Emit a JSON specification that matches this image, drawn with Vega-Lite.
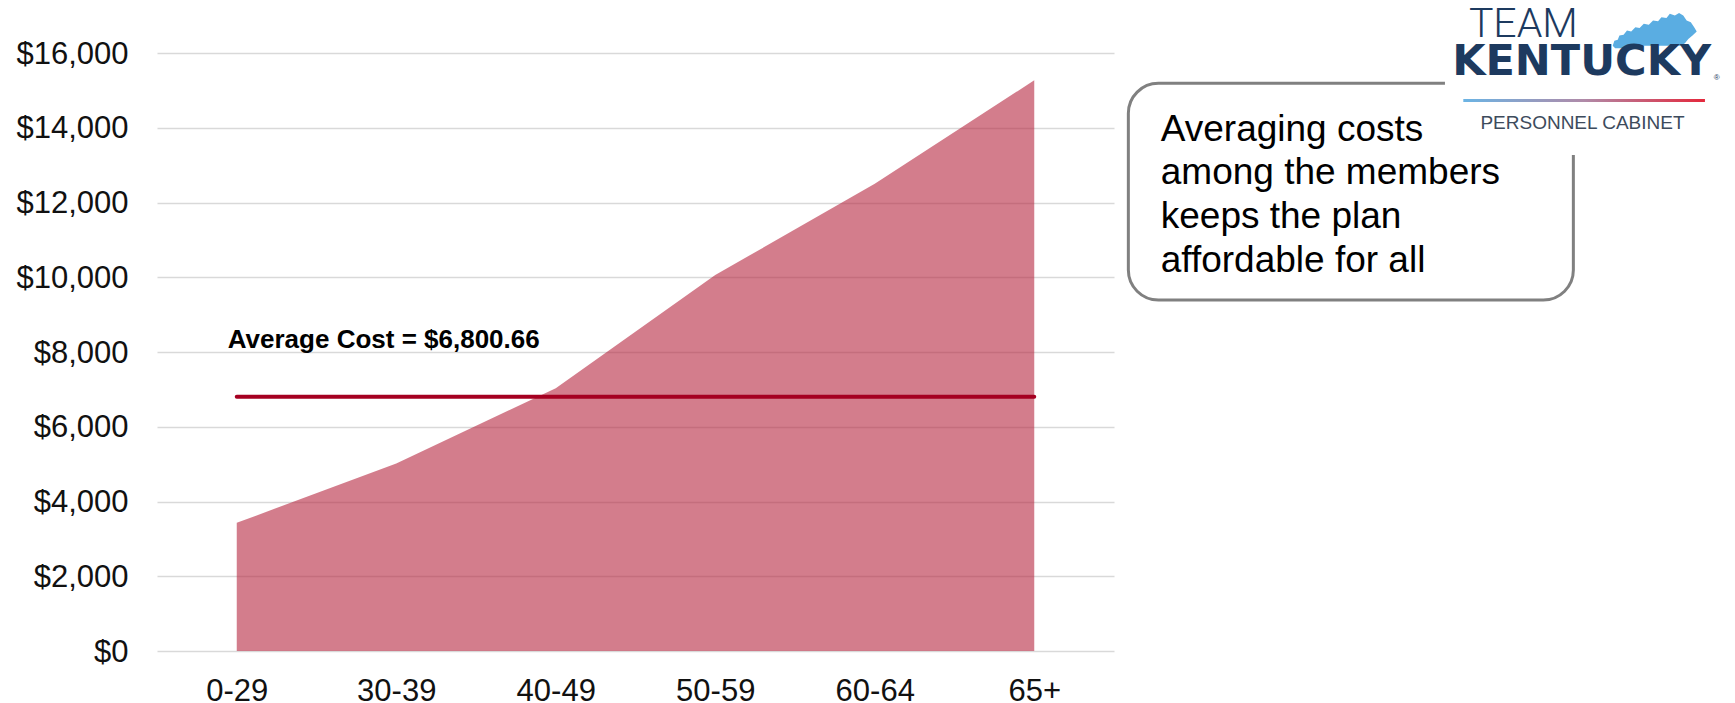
{
  "$schema": "https://vega.github.io/schema/vega-lite/v6.json",
  "width": 957,
  "height": 598,
  "autosize": {"type": "none"},
  "padding": {"left": 157, "top": 53, "right": 621, "bottom": 52},
  "background": "white",
  "config": {
    "view": {"stroke": null},
    "font": "Liberation Sans"
  },
  "datasets": {
    "costs": [
      {"age": "0-29", "cost": 3430},
      {"age": "30-39", "cost": 5020},
      {"age": "40-49", "cost": 7030},
      {"age": "50-59", "cost": 10060},
      {"age": "60-64", "cost": 12500},
      {"age": "65+", "cost": 15270}
    ],
    "average": [
      {"label": "Average Cost = $6,800.66", "cost": 6800.66}
    ],
    "note": [
      {"text": "Averaging costs\namong the members\nkeeps the plan\naffordable for all"}
    ],
    "logo": [
      {"team": "TEAM", "state": "KENTUCKY", "unit": "PERSONNEL CABINET", "mark": "®"}
    ]
  },
  "layer": [
    {
      "layer": [
        {
          "data": {"name": "costs"},
          "mark": {"type": "area", "color": "#B6263F", "opacity": 0.6},
          "encoding": {
            "x": {
              "field": "age",
              "type": "nominal",
              "sort": null,
              "scale": {
                "type": "point",
                "padding": 0.5,
                "domain": ["0-29", "30-39", "40-49", "50-59", "60-64", "65+"]
              },
              "axis": {
                "title": null,
                "labelAngle": 0,
                "labelFontSize": 31,
                "labelColor": "#111111",
                "labelPadding": 25,
                "domain": false,
                "ticks": false,
                "tickSize": 0,
                "grid": false
              }
            },
            "y": {
              "field": "cost",
              "type": "quantitative",
              "scale": {"domain": [0, 16000], "nice": false},
              "axis": {
                "title": null,
                "values": [0, 2000, 4000, 6000, 8000, 10000, 12000, 14000, 16000],
                "format": "$,.0f",
                "labelFontSize": 31,
                "labelColor": "#111111",
                "labelPadding": 29,
                "labelOffset": 1,
                "domain": false,
                "ticks": false,
                "tickSize": 0,
                "grid": true,
                "gridColor": "#d9d9d9",
                "gridWidth": 1.5
              }
            }
          }
        },
        {
          "data": {"name": "average"},
          "mark": {"type": "rule", "color": "#A50021", "strokeWidth": 4, "strokeCap": "round"},
          "encoding": {
            "x": {"datum": "0-29", "type": "nominal"},
            "x2": {"datum": "65+"},
            "y": {"field": "cost", "type": "quantitative"}
          }
        },
        {
          "data": {"name": "average"},
          "mark": {
            "type": "text",
            "align": "left",
            "baseline": "alphabetic",
            "fontWeight": "bold",
            "fontSize": 26,
            "color": "#000000",
            "dx": -9,
            "dy": -49
          },
          "encoding": {
            "x": {"datum": "0-29", "type": "nominal"},
            "y": {"field": "cost", "type": "quantitative"},
            "text": {"field": "label", "type": "nominal"}
          }
        }
      ]
    },
    {
      "layer": [
        {
          "data": {"name": "note"},
          "mark": {
            "type": "rect",
            "fill": "white",
            "stroke": "#808080",
            "strokeWidth": 3,
            "cornerRadius": 30
          },
          "encoding": {
            "x": {"datum": 5.59, "type": "quantitative", "scale": {"domain": [-0.5, 5.5], "nice": false, "zero": false}, "axis": null},
            "x2": {"datum": 8.38},
            "y": {"datum": 15189, "type": "quantitative", "scale": {"domain": [0, 16000], "nice": false}, "axis": null},
            "y2": {"datum": 9391}
          }
        },
        {
          "data": {"name": "note"},
          "mark": {
            "type": "text",
            "align": "left",
            "baseline": "alphabetic",
            "fontSize": 37,
            "lineHeight": 43.7,
            "lineBreak": "\n",
            "color": "#000000"
          },
          "encoding": {
            "x": {"datum": 5.793, "type": "quantitative"},
            "y": {"datum": 13653, "type": "quantitative"},
            "text": {"field": "text", "type": "nominal"}
          }
        },
        {
          "data": {"name": "logo"},
          "mark": {"type": "rect", "fill": "white", "strokeWidth": 0},
          "encoding": {
            "x": {"datum": 7.575, "type": "quantitative"},
            "x2": {"datum": 9.6},
            "y": {"datum": 17600, "type": "quantitative"},
            "y2": {"datum": 13271}
          }
        },
        {
          "data": {"name": "logo"},
          "mark": {
            "type": "point",
            "filled": true,
            "opacity": 1,
            "strokeWidth": 0,
            "color": "#5AADE2",
            "size": 7056,
            "shape": "M -1 0.36 L -0.96 0.24 L -0.88 0.22 L -0.84 0.12 L -0.74 0.1 L -0.66 0 L -0.56 0.02 L -0.46 -0.08 L -0.36 -0.06 L -0.26 -0.16 L -0.14 -0.14 L -0.04 -0.24 L 0.08 -0.22 L 0.16 -0.32 L 0.28 -0.3 L 0.36 -0.4 L 0.48 -0.36 L 0.58 -0.42 L 0.68 -0.36 L 0.76 -0.24 L 0.86 -0.2 L 0.94 -0.08 L 1 0.02 L 0.9 0.12 L 0.8 0.2 L 0.72 0.3 L 0.62 0.36 L -0.58 0.36 L -0.6 0.42 L -0.94 0.42 Z"
          },
          "encoding": {
            "x": {"datum": 8.89, "type": "quantitative"},
            "y": {"datum": 16600, "type": "quantitative"}
          }
        },
        {
          "data": {"name": "logo"},
          "mark": {
            "type": "text",
            "align": "left",
            "baseline": "alphabetic",
            "font": "Roboto",
            "fontWeight": 300,
            "fontSize": 41,
            "color": "#1D3A5F"
          },
          "encoding": {
            "x": {"datum": 7.725, "type": "quantitative"},
            "y": {"datum": 16436, "type": "quantitative"},
            "text": {"field": "team", "type": "nominal"}
          }
        },
        {
          "data": {"name": "logo"},
          "mark": {
            "type": "text",
            "align": "left",
            "baseline": "alphabetic",
            "font": "DejaVu Sans",
            "fontWeight": "bold",
            "fontSize": 43,
            "color": "#1D3A5F"
          },
          "encoding": {
            "x": {"datum": 7.62, "type": "quantitative"},
            "y": {"datum": 15411, "type": "quantitative"},
            "text": {"field": "state", "type": "nominal"}
          }
        },
        {
          "data": {"name": "logo"},
          "mark": {
            "type": "text",
            "align": "left",
            "baseline": "alphabetic",
            "fontSize": 8,
            "color": "#1D3A5F"
          },
          "encoding": {
            "x": {"datum": 9.26, "type": "quantitative"},
            "y": {"datum": 15278, "type": "quantitative"},
            "text": {"field": "mark", "type": "nominal"}
          }
        },
        {
          "data": {"name": "logo"},
          "mark": {
            "type": "rect",
            "strokeWidth": 0,
            "color": {
              "gradient": "linear",
              "x1": 0, "y1": 0, "x2": 1, "y2": 0,
              "stops": [
                {"offset": 0, "color": "#6BB4E4"},
                {"offset": 0.5, "color": "#B08AA8"},
                {"offset": 1, "color": "#E4283C"}
              ]
            }
          },
          "encoding": {
            "x": {"datum": 7.69, "type": "quantitative"},
            "x2": {"datum": 9.205},
            "y": {"datum": 14769, "type": "quantitative"},
            "y2": {"datum": 14689}
          }
        },
        {
          "data": {"name": "logo"},
          "mark": {
            "type": "text",
            "align": "center",
            "baseline": "alphabetic",
            "fontSize": 19,
            "color": "#3D4B5C"
          },
          "encoding": {
            "x": {"datum": 8.437, "type": "quantitative"},
            "y": {"datum": 13959, "type": "quantitative"},
            "text": {"field": "unit", "type": "nominal"}
          }
        }
      ]
    }
  ],
  "resolve": {"scale": {"x": "independent", "y": "independent"}}
}
